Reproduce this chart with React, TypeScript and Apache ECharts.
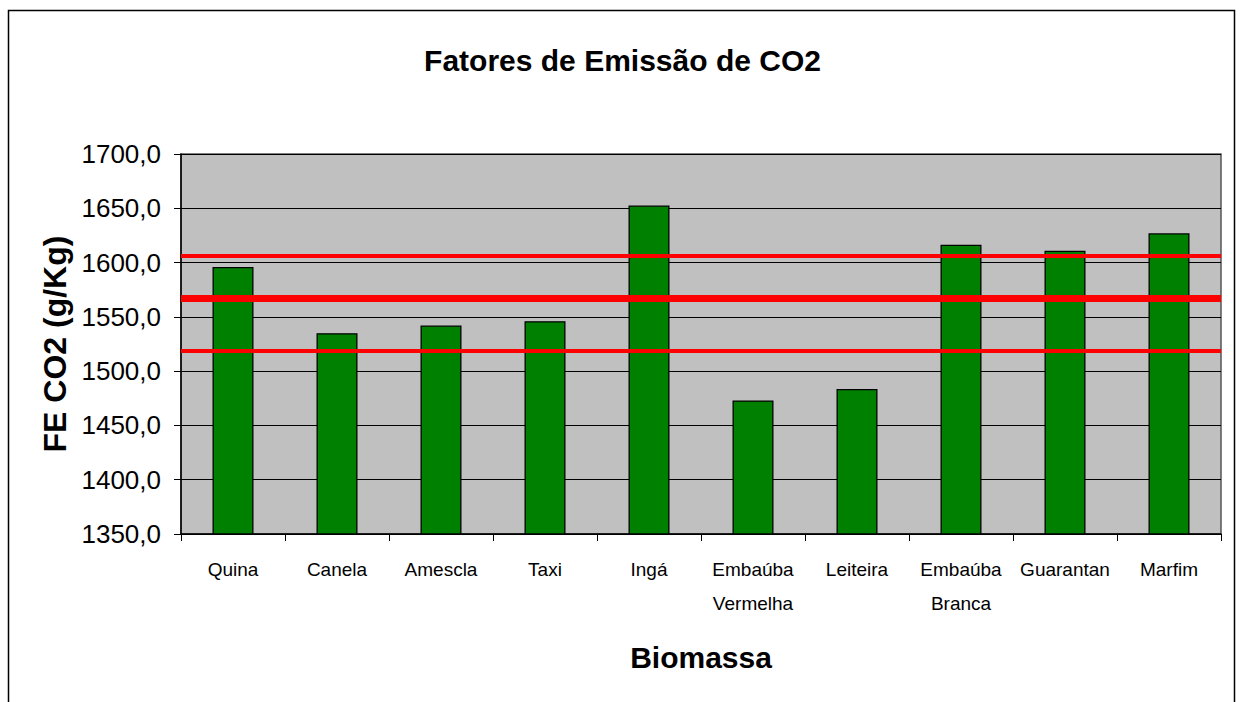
import React, { useEffect, useRef } from "react";
import * as echarts from "echarts";

const categories = [
  "Quina",
  "Canela",
  "Amescla",
  "Taxi",
  "Ingá",
  "Embaúba\nVermelha",
  "Leiteira",
  "Embaúba\nBranca",
  "Guarantan",
  "Marfim",
];
const feValues = [1596, 1535, 1542, 1546, 1652.5, 1473, 1483.5, 1616.5, 1611, 1627];
const referenceLines = [1606, 1567, 1519];
const referenceWidths = [4, 7, 4];
const yMin = 1350;
const yMax = 1700;
const yStep = 50;

const FONT = "'Liberation Sans', Arial, sans-serif";

export default function App() {
  const ref = useRef<HTMLDivElement>(null);
  useEffect(() => {
    if (!ref.current) return;
    const chart = echarts.init(ref.current, undefined, { renderer: "svg" });
    chart.setOption({
      animation: false,
      backgroundColor: "#ffffff",
      title: {
        text: "Fatores de Emissão de CO2",
        left: "center",
        top: 40,
        textStyle: { fontFamily: FONT, fontSize: 30, fontWeight: "bold", color: "#000" },
      },
      graphic: [
        {
          type: "rect",
          shape: { x: 8.5, y: 10.5, width: 1226, height: 760 },
          style: { fill: "none", stroke: "#000", lineWidth: 1.5 },
          z: -10,
          silent: true,
        },
      ],
      grid: {
        left: 181,
        top: 154,
        right: 24,
        bottom: 168,
        show: true,
        backgroundColor: "#c0c0c0",
        borderColor: "#555",
        borderWidth: 1.5,
      },
      xAxis: {
        type: "category",
        data: categories,
        name: "Biomassa",
        nameLocation: "middle",
        nameGap: 108,
        nameTextStyle: { fontFamily: FONT, fontSize: 30, fontWeight: "bold", color: "#000" },
        axisLine: { lineStyle: { color: "#000", width: 1.5 } },
        axisTick: { show: true, length: 7, lineStyle: { color: "#000" } },
        axisLabel: {
          fontFamily: FONT,
          fontSize: 19,
          color: "#000",
          margin: 18,
          lineHeight: 34,
          interval: 0,
        },
      },
      yAxis: {
        type: "value",
        min: yMin,
        max: yMax,
        interval: yStep,
        name: "FE CO2 (g/Kg)",
        nameLocation: "middle",
        nameGap: 100,
        nameRotate: 90,
        nameTextStyle: { fontFamily: FONT, fontSize: 32, fontWeight: "bold", color: "#000" },
        axisLine: { show: true, lineStyle: { color: "#000", width: 1.5 } },
        axisTick: { show: true, length: 7, lineStyle: { color: "#000" } },
        splitLine: { show: true, lineStyle: { color: "#000", width: 1 } },
        axisLabel: {
          fontFamily: FONT,
          fontSize: 26,
          color: "#000",
          margin: 20,
          formatter: (v: number) => v.toFixed(1).replace(".", ","),
        },
      },
      series: [
        {
          type: "bar",
          data: feValues,
          barWidth: 41,
          itemStyle: { color: "#008000", borderColor: "#000", borderWidth: 1.3 },
          markLine: {
            silent: true,
            symbol: "none",
            label: { show: false },
            data: referenceLines.map((v, i) => ({
              yAxis: v,
              lineStyle: { color: "#ff0000", width: referenceWidths[i], type: "solid" },
            })),
          },
        },
      ],
    });
    return () => chart.dispose();
  }, []);
  return (
    <div
      ref={ref}
      style={{ position: "absolute", left: 0, top: 0, width: 1245, height: 702 }}
    />
  );
}
